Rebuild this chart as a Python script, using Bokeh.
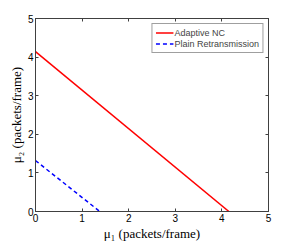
from bokeh.plotting import figure
from bokeh.models import Range1d, FixedTicker, LinearAxis, Legend, LegendItem
from bokeh.embed import file_html
from bokeh.resources import INLINE

# Data
nc_x = [0.0, 4.15]
nc_y = [4.14, 0.0]
pr_x = [0.0, 1.38]
pr_y = [1.32, 0.0]
ticks = [0, 1, 2, 3, 4, 5]
series_names = ["Adaptive NC", "Plain Retransmission"]

p = figure(width=296, height=243, output_backend="svg", toolbar_location=None,
           x_range=Range1d(0, 5), y_range=Range1d(0, 5),
           min_border_left=35, min_border_right=28, min_border_top=18, min_border_bottom=30)
p.background_fill_color = "white"
p.border_fill_color = "white"
p.outline_line_color = "#404040"
p.grid.visible = False

r1 = p.line(nc_x, nc_y, line_color="#ff0000", line_width=1.5)
r2 = p.line(pr_x, pr_y, line_color="#0000ff", line_width=1.5, line_dash="4 3")

def style_axis(ax, labels=True):
    ax.ticker = FixedTicker(ticks=ticks)
    ax.axis_line_color = "#404040"
    ax.major_tick_line_color = "#404040"
    ax.major_tick_in = 3
    ax.major_tick_out = 0
    ax.minor_tick_line_color = None
    ax.major_label_text_font = "Liberation Sans"
    ax.major_label_text_font_size = "10px" if labels else "1px"
    ax.major_label_text_color = "black" if labels else None
    ax.major_label_standoff = 2 if labels else 0
    ax.axis_label_text_font = "Liberation Serif"
    ax.axis_label_text_font_size = "13px"
    ax.axis_label_text_font_style = "normal"
    ax.axis_label_text_color = "black"
    ax.axis_label_standoff = 1

style_axis(p.xaxis[0])
style_axis(p.yaxis[0])
p.xaxis[0].axis_label = "μ₁ (packets/frame)"
p.yaxis[0].axis_label = "μ₂ (packets/frame)"

top = LinearAxis()
style_axis(top, labels=False)
right = LinearAxis()
style_axis(right, labels=False)
p.add_layout(top, "above")
p.add_layout(right, "right")

legend = Legend(items=[LegendItem(label=series_names[0], renderers=[r1]),
                       LegendItem(label=series_names[1], renderers=[r2])],
                location="top_right")
legend.label_text_font = "Liberation Sans"
legend.label_text_font_size = "9px"
legend.label_height = 11
legend.glyph_height = 11
legend.glyph_width = 18
legend.spacing = 0
legend.padding = 3
legend.margin = 5
legend.label_standoff = 1
legend.border_line_color = "#404040"
legend.background_fill_alpha = 1.0
p.add_layout(legend)

open("out.html", "w").write(file_html(p, INLINE))
